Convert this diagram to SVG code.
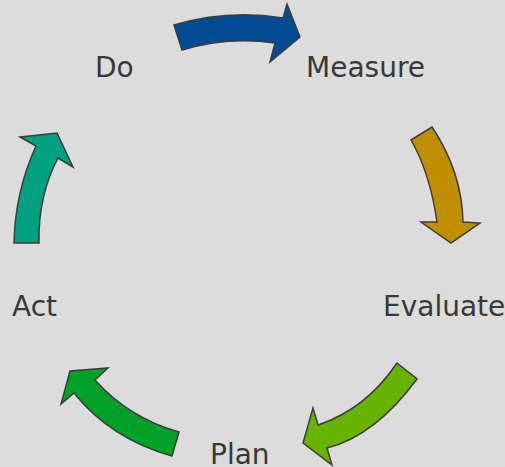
<svg xmlns="http://www.w3.org/2000/svg" width="505" height="467" viewBox="0 0 505 467">
  <style>
    .arrow { stroke: #3c3c3c; stroke-width: 1.5; stroke-linejoin: miter; }
    .label { font-family: "DejaVu Sans", Verdana, sans-serif; font-size: 28px; fill: #383838; }
  </style>
  <rect width="505" height="467" fill="#dcdcdc"/>
  <g id="connectors">
    <path class="arrow" fill="#024b94" d="M174,25 Q228,9 283,18 L287,4 L300,37 L270,62 L275,43 Q228,36 182,50 Z"/>
    <path class="arrow" fill="#bf8f00" d="M411,140 L432,127 Q462,172 463,222 L480,223 L451,243 L421,222 L437,222 Q430,173 411,140 Z"/>
    <path class="arrow" fill="#66b300" d="M397,363 L417,379 Q375,436 327,448 L332,465 L303,443 L313,408 L318,425 Q366,409 397,363 Z"/>
    <path class="arrow" fill="#00a126" d="M172,456 L179,432 Q129,418 95,380 L108,368 L70,371 L61,404 L74,393 Q111,439 172,456 Z"/>
    <path class="arrow" fill="#00a080" d="M14,243 L39,243 Q38,196 58,158 L73,167 L57,133 L20,137 L36,146 Q15,192 14,243 Z"/>
  </g>
  <g id="node-do"><text class="label" x="95" y="77">Do</text></g>
  <g id="node-measure"><text class="label" x="306" y="77">Measure</text></g>
  <g id="node-evaluate"><text class="label" x="383" y="316">Evaluate</text></g>
  <g id="node-plan"><text class="label" x="210" y="464">Plan</text></g>
  <g id="node-act"><text class="label" x="12" y="316">Act</text></g>
</svg>
